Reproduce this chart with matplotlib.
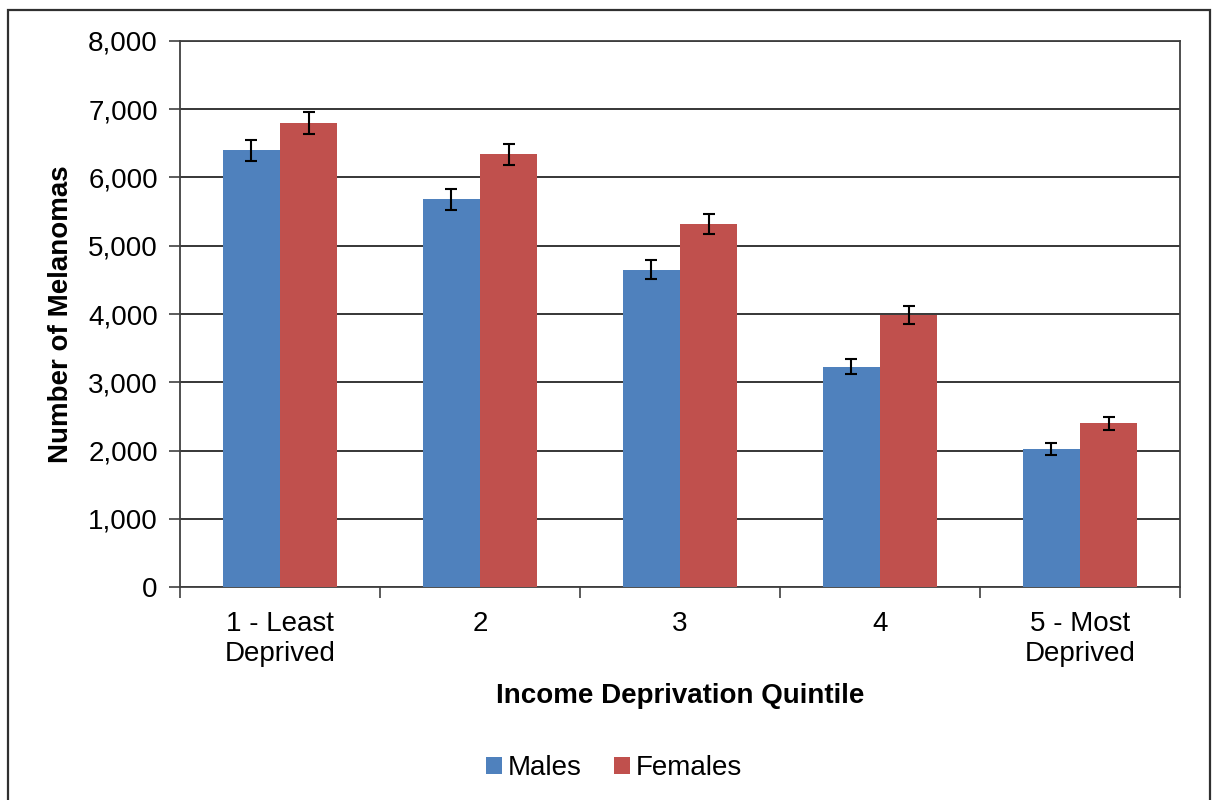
import matplotlib
matplotlib.use("Agg")
import matplotlib.pyplot as plt
from matplotlib.patches import Rectangle
from matplotlib.ticker import FuncFormatter, FixedLocator
import numpy as np

plt.rcParams['font.family'] = ['Liberation Sans', 'DejaVu Sans']

categories = ["1 - Least\nDeprived", "2", "3", "4", "5 - Most\nDeprived"]
males = [6400, 5680, 4650, 3230, 2020]
females = [6800, 6340, 5320, 3980, 2400]
males_err = [155, 150, 134, 115, 90]
females_err = [163, 156, 143, 131, 98]
series_names = ["Males", "Females"]
colors = ["#4F81BD", "#C0504D"]

W, H = 1216, 800
fig = plt.figure(figsize=(W / 100, H / 100), dpi=100)
ax = fig.add_axes([180 / W, 1 - 587 / H, 1000 / W, 546 / H])

x = np.arange(len(categories))
bw = 1 / 3.5
ekw = dict(ecolor="black", elinewidth=1.5, capthick=1.5)
ax.bar(x - bw / 2, males, width=bw, color=colors[0], label=series_names[0],
       yerr=males_err, capsize=4.5, error_kw=ekw, zorder=3)
ax.bar(x + bw / 2, females, width=bw, color=colors[1], label=series_names[1],
       yerr=females_err, capsize=4.5, error_kw=ekw, zorder=3)

ax.set_xlim(-0.5, len(categories) - 0.5)
ax.set_ylim(0, 8000)
ax.set_yticks(np.arange(0, 8001, 1000))
ax.yaxis.set_major_formatter(FuncFormatter(lambda v, p: f"{int(v):,}"))
ax.grid(axis="y", color="black", linewidth=1.1, zorder=0)
ax.set_axisbelow(True)

ax.set_xticks(x)
ax.set_xticklabels(categories, fontsize=20, linespacing=1.2)
ax.xaxis.set_minor_locator(FixedLocator(np.arange(-0.5, len(categories), 1)))
ax.tick_params(axis="x", which="major", length=0, pad=17)
ax.tick_params(axis="x", which="minor", length=8, width=1.2, color="#404040")
ax.tick_params(axis="y", length=8, width=1.2, color="#404040", labelsize=20, pad=8)

for s in ax.spines.values():
    s.set_color("#404040")
    s.set_linewidth(1.3)

ax.set_ylabel("Number of Melanomas", fontsize=20, fontweight="bold", labelpad=10)
ax.set_xlabel("Income Deprivation Quintile", fontsize=20, fontweight="bold", labelpad=12)

fig.legend(loc="center", bbox_to_anchor=(614 / W, 1 - 768 / H), ncol=2, frameon=False,
           fontsize=20, handlelength=0.55, handleheight=0.55, handletextpad=0.2,
           columnspacing=1.2)

# outer chart border
fig.patches.append(Rectangle((8 / W, -0.01), (1210 - 8) / W, 1 - 10 / H + 0.01,
                             transform=fig.transFigure, fill=False,
                             edgecolor="#303030", linewidth=1.6))

fig.savefig("out.png", dpi=100)
